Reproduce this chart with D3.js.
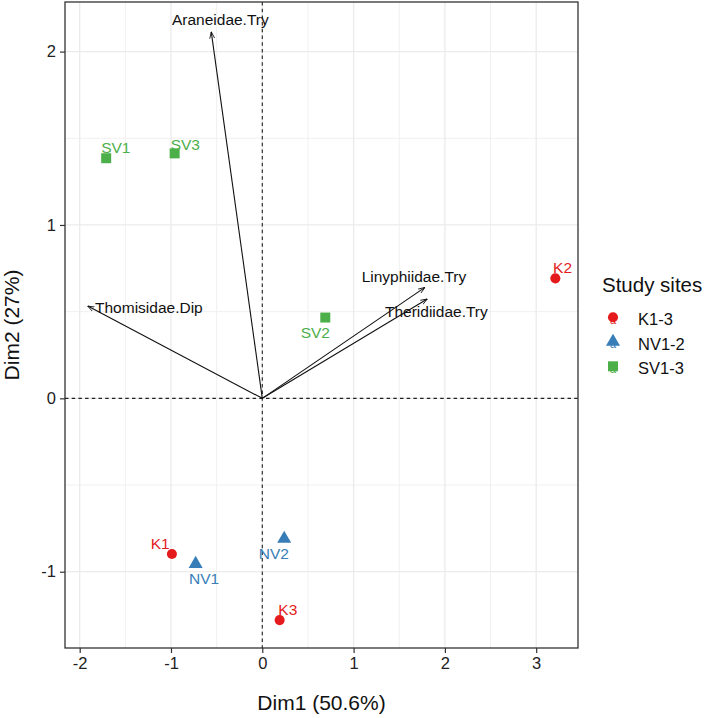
<!DOCTYPE html>
<html>
<head>
<meta charset="utf-8">
<script src="https://cdn.jsdelivr.net/npm/d3@7"></script>
<style>
  html, body { margin: 0; padding: 0; background: #fff; }
  svg { display: block; font-family: "Liberation Sans", Arial, sans-serif; }
</style>
</head>
<body>
<svg id="chart" width="709" height="718"></svg>
<script>
// ---------------- data ----------------
const siteNames  = ["SV1", "SV3", "SV2", "K2", "K1", "K3", "NV2", "NV1"];
const siteGroups = ["SV1-3", "SV1-3", "SV1-3", "K1-3", "K1-3", "K1-3", "NV1-2", "NV1-2"];
const siteDim1   = [-1.71, -0.96, 0.69, 3.21, -0.99, 0.19, 0.24, -0.73];
const siteDim2   = [1.385, 1.413, 0.466, 0.692, -0.898, -1.279, -0.81, -0.955];

const varNames = ["Araneidae.Try", "Thomisidae.Dip", "Linyphiidae.Try", "Theridiidae.Try"];
const varDim1  = [-0.559, -1.912, 1.782, 1.807];
const varDim2  = [2.114, 0.532, 0.640, 0.573];

const groupNames = ["K1-3", "NV1-2", "SV1-3"];
const xTicks = [-2, -1, 0, 1, 2, 3];
const yTicks = [-1, 0, 1, 2];
const xTitle = "Dim1 (50.6%)";
const yTitle = "Dim2 (27%)";
const legendTitle = "Study sites";

// ---------------- layout / style ----------------
const panel = { left: 65, right: 578, top: 2, bottom: 648 };
const groupColor = d3.scaleOrdinal().domain(groupNames).range(["#E41A1C", "#377EB8", "#4DAF4A"]);
const groupShape = d3.scaleOrdinal().domain(groupNames).range([d3.symbolCircle, d3.symbolTriangle, d3.symbolSquare]);
const groupSize  = d3.scaleOrdinal().domain(groupNames).range([80, 85, 100]);

// label placement (pixel offsets from mark, anchor), as repelled in the reference
const siteLabelPlace = {
  SV1: [-5, -5, "start"], SV3: [-4, -3, "start"], SV2: [4.7, 20.3, "end"],
  K2: [-2.3, -5.3, "start"], K1: [-2.3, -5, "end"], K3: [-1.3, -5, "start"],
  NV2: [4.7, 20, "end"], NV1: [-6.7, 20, "start"]
};
const varLabelPlace = {
  "Araneidae.Try": [-39.3, -6.7], "Thomisidae.Dip": [7.3, 6.7],
  "Linyphiidae.Try": [-63.3, -5.3], "Theridiidae.Try": [-42.3, 17.7]
};

const x = d3.scaleLinear().domain([-2.161, 3.458]).range([panel.left, panel.right]);
const y = d3.scaleLinear().domain([-1.44, 2.286]).range([panel.bottom, panel.top]);

const svg = d3.select("#chart");

// clip
svg.append("defs").append("clipPath").attr("id", "clip")
  .append("rect").attr("x", panel.left).attr("y", panel.top)
  .attr("width", panel.right - panel.left).attr("height", panel.bottom - panel.top);

// panel background
svg.append("rect").attr("x", panel.left).attr("y", panel.top)
  .attr("width", panel.right - panel.left).attr("height", panel.bottom - panel.top)
  .attr("fill", "#fff");

// grid
const grid = svg.append("g").attr("clip-path", "url(#clip)");
const xMinor = d3.range(-2.5, 4, 0.5).filter(v => !xTicks.includes(v));
const yMinor = d3.range(-1.5, 2.6, 0.5).filter(v => !yTicks.includes(v));
grid.selectAll(".vminor").data(xMinor).join("line")
  .attr("x1", d => x(d)).attr("x2", d => x(d)).attr("y1", panel.top).attr("y2", panel.bottom)
  .attr("stroke", "#f0f0f0").attr("stroke-width", 1);
grid.selectAll(".hminor").data(yMinor).join("line")
  .attr("y1", d => y(d)).attr("y2", d => y(d)).attr("x1", panel.left).attr("x2", panel.right)
  .attr("stroke", "#f0f0f0").attr("stroke-width", 1);
grid.selectAll(".vmajor").data(xTicks).join("line")
  .attr("x1", d => x(d)).attr("x2", d => x(d)).attr("y1", panel.top).attr("y2", panel.bottom)
  .attr("stroke", "#ebebeb").attr("stroke-width", 1.3);
grid.selectAll(".hmajor").data(yTicks).join("line")
  .attr("y1", d => y(d)).attr("y2", d => y(d)).attr("x1", panel.left).attr("x2", panel.right)
  .attr("stroke", "#ebebeb").attr("stroke-width", 1.3);

// dashed zero lines
const plot = svg.append("g").attr("clip-path", "url(#clip)");
plot.append("line").attr("x1", panel.left).attr("x2", panel.right).attr("y1", y(0)).attr("y2", y(0))
  .attr("stroke", "#222").attr("stroke-width", 1.1).attr("stroke-dasharray", "3.5,3.2");
plot.append("line").attr("y1", panel.top).attr("y2", panel.bottom).attr("x1", x(0)).attr("x2", x(0))
  .attr("stroke", "#222").attr("stroke-width", 1.1).attr("stroke-dasharray", "3.5,3.2");

// arrows
svg.select("defs").append("marker").attr("id", "arrow")
  .attr("viewBox", "0 0 10 10").attr("refX", 9.5).attr("refY", 5)
  .attr("markerWidth", 7).attr("markerHeight", 7).attr("markerUnits", "userSpaceOnUse")
  .attr("orient", "auto")
  .append("path").attr("d", "M0,1.5 L9.5,5 L0,8.5").attr("fill", "none")
  .attr("stroke", "#111").attr("stroke-width", 1.2);

const vars = varNames.map((n, i) => ({ name: n, d1: varDim1[i], d2: varDim2[i] }));
plot.selectAll(".arrow").data(vars).join("line")
  .attr("x1", x(0)).attr("y1", y(0))
  .attr("x2", d => x(d.d1)).attr("y2", d => y(d.d2))
  .attr("stroke", "#111").attr("stroke-width", 1.1)
  .attr("marker-end", "url(#arrow)");

svg.selectAll(".varlabel").data(vars).join("text")
  .attr("x", d => x(d.d1) + varLabelPlace[d.name][0])
  .attr("y", d => y(d.d2) + varLabelPlace[d.name][1])
  .attr("font-size", 15.5).attr("fill", "#111").attr("text-anchor", "start")
  .text(d => d.name);

// sites
const sites = siteNames.map((n, i) => ({ name: n, group: siteGroups[i], d1: siteDim1[i], d2: siteDim2[i] }));
plot.selectAll(".site").data(sites).join("path")
  .attr("transform", d => `translate(${x(d.d1)},${y(d.d2)})`)
  .attr("d", d => d3.symbol().type(groupShape(d.group)).size(groupSize(d.group))())
  .attr("fill", d => groupColor(d.group));

svg.selectAll(".sitelabel").data(sites).join("text")
  .attr("x", d => x(d.d1) + siteLabelPlace[d.name][0])
  .attr("y", d => y(d.d2) + siteLabelPlace[d.name][1])
  .attr("text-anchor", d => siteLabelPlace[d.name][2])
  .attr("font-size", 15.5).attr("fill", d => groupColor(d.group))
  .text(d => d.name);

// panel border
svg.append("rect").attr("x", panel.left).attr("y", panel.top)
  .attr("width", panel.right - panel.left).attr("height", panel.bottom - panel.top)
  .attr("fill", "none").attr("stroke", "#333").attr("stroke-width", 1.3);

// axes
const xAxis = svg.append("g").attr("transform", `translate(0,${panel.bottom})`)
  .call(d3.axisBottom(x).tickValues(xTicks).tickSize(5).tickPadding(4).tickFormat(d3.format("d")));
const yAxis = svg.append("g").attr("transform", `translate(${panel.left},0)`)
  .call(d3.axisLeft(y).tickValues(yTicks).tickSize(5).tickPadding(4).tickFormat(d3.format("d")));
[xAxis, yAxis].forEach(a => {
  a.select(".domain").remove();
  a.selectAll(".tick line").attr("stroke", "#333").attr("stroke-width", 1.2);
  a.selectAll(".tick text").attr("font-size", 16.5).attr("fill", "#222")
    .attr("font-family", "'Liberation Sans', Arial, sans-serif");
});
// use proper minus sign as ggplot shows hyphen-like
xAxis.selectAll(".tick text").text(d => d < 0 ? "-" + Math.abs(d) : d);
yAxis.selectAll(".tick text").text(d => d < 0 ? "-" + Math.abs(d) : d);

svg.append("text").attr("x", (panel.left + panel.right) / 2).attr("y", 710)
  .attr("text-anchor", "middle").attr("font-size", 21).attr("fill", "#111").text(xTitle);
svg.append("text").attr("transform", `translate(19,${(panel.top + panel.bottom) / 2}) rotate(-90)`)
  .attr("text-anchor", "middle").attr("font-size", 21).attr("fill", "#111").text(yTitle);

// legend
const legend = svg.append("g");
legend.append("text").attr("x", 602).attr("y", 292).attr("font-size", 20.5).attr("fill", "#111").text(legendTitle);
const items = legend.selectAll(".item").data(groupNames).join("g")
  .attr("transform", (d, i) => `translate(613,${317.3 + i * 24.5})`);
items.append("text").attr("x", 0).attr("y", 6.5).attr("text-anchor", "middle")
  .attr("font-size", 11).attr("fill", d => groupColor(d)).text("a");
items.append("path")
  .attr("d", d => d3.symbol().type(groupShape(d)).size(groupSize(d))())
  .attr("fill", d => groupColor(d));
items.append("text").attr("x", 25).attr("y", 7.8).attr("font-size", 16.5).attr("fill", "#111").text(d => d);
</script>
</body>
</html>
